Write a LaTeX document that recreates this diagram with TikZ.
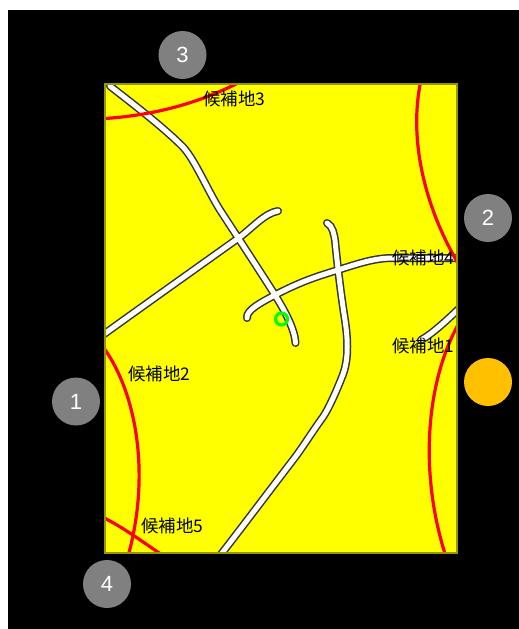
\documentclass[tikz,border=0pt]{standalone}
\usepackage{fontspec}
\setmainfont{Liberation Sans}
\newfontfamily\cjk{Noto Sans CJK JP}
\definecolor{orangebadge}{RGB}{255,192,0}
\definecolor{rimcolor}{RGB}{150,150,0}
\definecolor{pureyellow}{RGB}{255,255,0}
\definecolor{purered}{RGB}{255,0,0}
\definecolor{puregreen}{RGB}{0,255,0}
\definecolor{badgegray}{RGB}{128,128,128}
\tikzset{
  x=1pt,y=-1pt,
  badge/.style={circle,fill=#1,draw=none,minimum size=48pt,inner sep=0pt,text=white,font=\fontsize{22}{22}\selectfont},
  lbl/.style={inner sep=0pt,text=black,font=\cjk\fontsize{17.4}{17.4}\selectfont},
  redarc/.style={draw=purered,line width=3.2pt},
  roadout/.style={draw=black!80,line width=8pt,line cap=round},
  roadin/.style={draw=white,line width=5pt,line cap=round},
}
\begin{document}
\begin{tikzpicture}
\useasboundingbox (0,0) rectangle (519,629);
\fill[white] (0,0) rectangle (519,629);
\fill[black] (8,10) rectangle (519,629);
\fill[pureyellow] (105,84) rectangle (457,553);
\begin{scope}
\clip (105,84) rectangle (457,553);
\def\roadA{(110,86) .. controls (125,98) and (160,124) .. (183,147) .. controls (195,160) and (208,191) .. (220,210) .. controls (233,230) and (265,279) .. (275,295) .. controls (285,311) and (295,330) .. (295.5,343)}
\def\roadB{(100,337) .. controls (150,301) and (205,262) .. (240,237) .. controls (252,228) and (265,213) .. (278,211)}
\def\roadC{(247,318) .. controls (246,310) and (262,302) .. (275,295) .. controls (300,282) and (315,277) .. (338,270) .. controls (360,263) and (375,258) .. (393,258) .. controls (420,258) and (440,258) .. (465,258)}
\def\roadD{(327,223) .. controls (333,226) and (334,235) .. (335,240) .. controls (337,262) and (341,295) .. (345,320) .. controls (347,334) and (350,358) .. (342,377) .. controls (336,392) and (329,408) .. (323,417) .. controls (312,432) and (303,447) .. (293,460) .. controls (270,490) and (240,530) .. (215,562)}
\def\roadE{(421,340) .. controls (432,334) and (445,322) .. (465,303)}
\foreach \r in {\roadA,\roadB,\roadC,\roadD,\roadE}{\path[roadout] \r;}
\foreach \r in {\roadA,\roadB,\roadC,\roadD,\roadE}{\path[roadin] \r;}
\path[redarc] (98,119) .. controls (150,116) and (195,105) .. (240,82);
\path[redarc] (421,80) .. controls (408,140) and (425,210) .. (462,270);
\path[redarc] (462,318) .. controls (427,375) and (417,470) .. (447,560);
\path[redarc] (100,343) .. controls (134,385) and (153,470) .. (127,560);
\path[redarc] (98,515) .. controls (120,525) and (140,540) .. (165,557);
\end{scope}
\draw[draw=rimcolor,line width=1.2pt] (105,84) rectangle (457,553);
\node[circle,draw=puregreen,line width=3.2pt,minimum size=12pt,inner sep=0pt] (pin) at (281.5,319) {};
\node[lbl,anchor=west] (c3) at (203,99) {候補地3};
\node[lbl,anchor=west] (c4) at (392,258) {候補地4};
\node[lbl,anchor=west] (c1) at (392,346) {候補地1};
\node[lbl,anchor=west] (c2) at (128,374) {候補地2};
\node[lbl,anchor=west] (c5) at (141,526) {候補地5};
\node[badge=badgegray] (b3) at (182.5,55) {3};
\node[badge=badgegray] (b2) at (488,218) {2};
\node[badge=badgegray] (b1) at (76,401.5) {1};
\node[badge=badgegray] (b4) at (107,584) {4};
\node[badge=orangebadge] (b0) at (488,382) {};
\end{tikzpicture}
\end{document}
